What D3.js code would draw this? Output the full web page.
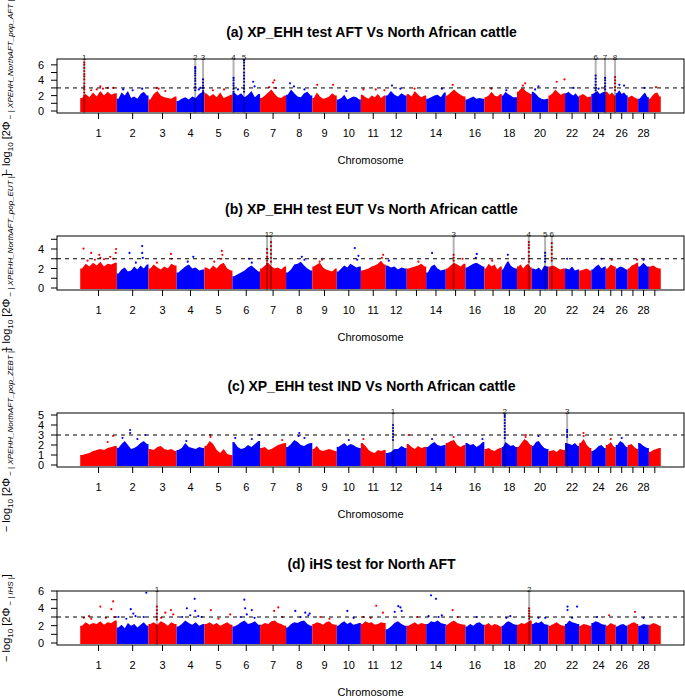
<!DOCTYPE html>
<html><head><meta charset="utf-8">
<script src="https://cdn.jsdelivr.net/npm/d3@7"></script>
<style>body{margin:0;background:#fff} text{font-family:"Liberation Sans",Arial,Helvetica,sans-serif}</style>
</head><body><svg id="c" width="685" height="700"></svg>
<script>
// ---------- data ----------
const chromosomes = d3.range(1, 30);
const chrLengths = [158.3,137.1,121.4,120.6,121.2,119.5,112.6,113.4,105.7,104.3,107.3,91.2,84.2,84.6,85.3,81.7,75.2,66.0,64.1,72.0,71.6,61.4,52.5,62.7,42.9,51.7,45.4,46.3,51.5];
const chrTickLabels = ["1","2","3","4","5","6","7","8","9","10","11","12","","14","","16","","18","","20","","22","","24","","26","","28",""];

const titles = ["(a) XP_EHH test AFT Vs North African cattle","(b) XP_EHH test EUT Vs North African cattle","(c) XP_EHH test IND Vs North African cattle","(d) iHS test for North AFT"];
const yLabelStats = ["XPEHH_NorthAFT_pop_AFT","XPEHH_NorthAFT_pop_EUT","XPEHH_NorthAFT_pop_ZEBT","iHS"];
const yMaxes = [6.5, 5.13, 5.0, 5.77];
const yTicks = [[0,1,2,3,4,5,6],[0,1,2,3,4,5],[0,1,2,3,4,5],[0,1,2,3,4,5,6]];
const yTickLabels = [["0","","2","","4","","6"],["0","","2","","4",""],["0","1","2","3","4","5"],["0","","2","","4","","6"]];
const threshold = 3;

// upper envelope of the dense SNP cloud, per chromosome (binned maxima)
const envA = [[1.7,2.2,1.8,2.4,1.9,2.6,2.0,2.5,2.1,2.3],[1.6,2.4,2.0,2.6,1.7,1.9,1.6,2.2,2.5,2.0],[1.5,2.2,2.6,2.0,1.8,1.7,1.6,1.9],[1.3,1.6,1.8,1.5,1.9,1.7,2.2,2.5],[2.3,1.9,2.2,1.8,2.4,1.7,1.9,2.1],[2.4,2.0,2.3,1.8,2.1,2.6,1.8,2.2],[1.7,2.0,2.4,2.8,2.2,1.8,1.7,2.0],[2.1,2.8,2.3,1.9,1.8,2.3,2.5,2.0],[1.7,2.4,1.9,1.6,1.7,1.9,2.3,2.0],[1.5,1.7,2.1,1.5,1.7,1.9,1.8,1.5],[2.1,1.8,1.6,2.0,1.8,2.2,1.7,2.0],[2.0,2.6,2.1,1.9,2.3,2.0],[2.2,1.9,2.6,2.1,1.8,2.0],[1.6,1.8,2.0,2.1,1.8,2.4],[2.0,2.4,2.8,2.4,2.1,1.9],[1.5,1.7,1.9,1.6,1.7,1.6],[1.8,2.0,2.5,2.0,1.9,2.2],[2.0,2.5,2.2,2.0,1.8,1.8],[2.5,2.9,3.0,2.6,2.4,2.2],[2.5,2.2,1.8,1.6,1.5,1.6],[2.0,2.3,2.8,2.4,2.1,2.3],[2.3,2.5,2.2,2.0,2.3,1.9],[2.0,2.2,2.0,1.8,1.9],[2.2,2.4,2.6,2.2,2.4,2.5],[2.5,2.1,2.4,2.0],[2.3,2.7,2.2,2.4,2.0],[1.8,2.0,1.8,1.6],[1.6,2.0,2.4,1.8],[1.6,2.0,2.3,2.4,1.9]];
const envB = [[2.0,2.5,2.2,2.6,2.3,2.7,2.2,2.5,2.4,2.6],[1.5,1.9,2.1,1.7,1.8,2.2,1.9,2.3,2.0,2.4],[2.0,2.4,2.1,1.9,2.2,2.0,2.5,2.3],[1.6,1.9,2.2,2.4,2.0,2.1,1.8,1.9],[2.1,1.9,2.3,2.0,2.4,2.6,2.0,1.8],[1.2,1.4,1.6,1.8,2.1,2.3,2.0,1.7],[2.0,2.3,2.6,2.2,2.0,2.1,1.9,2.2],[1.6,1.9,2.4,2.5,2.7,2.3,2.0,1.8],[2.2,2.4,2.6,2.1,1.9,1.8,1.7,2.0],[1.7,2.0,2.3,2.1,2.5,2.3,2.1,2.2],[1.8,1.9,2.0,2.2,2.3,2.5,2.8,2.4],[2.3,2.1,2.2,1.9,2.1,2.0],[2.0,2.1,2.2,2.3,2.5,2.2],[1.6,2.2,2.4,2.0,1.8,1.9],[2.0,2.3,2.6,2.4,2.2,2.5],[2.1,2.3,2.5,2.6,2.4,2.2],[2.0,2.5,2.2,2.4,1.9,2.2],[1.9,2.4,2.8,2.3,2.1,2.0],[2.2,2.4,2.0,2.3,2.5,2.1],[2.0,1.9,2.1,1.8,2.3,2.2],[2.2,2.3,2.1,1.9,2.0],[2.0,1.9,2.2,1.8,1.9],[1.8,1.9,2.0,1.8],[1.9,2.2,2.4,2.0,2.2],[2.0,2.4,2.2],[2.0,2.2,2.1,1.9],[2.0,2.3,2.4,2.6],[2.2,2.6,2.2],[2.2,2.3,2.1,2.0]];
const envC = [[1.0,1.1,1.2,1.4,1.5,1.6,1.5,1.7,1.8,1.9],[1.7,2.1,2.4,2.0,1.6,1.7,1.9,2.2,2.4,2.1],[1.6,1.5,1.8,1.9,1.6,1.5,1.6,1.4],[1.5,1.7,2.2,1.8,1.7,1.6,1.8,1.7],[1.9,2.4,2.1,1.5,1.2,1.6,1.1,1.0],[2.3,1.8,1.6,1.7,2.0,1.8,2.1,2.4],[1.7,1.8,1.5,1.6,1.8,2.0,2.1,2.2],[1.8,2.1,2.5,2.3,2.0,1.9,2.1,2.2],[1.6,1.9,1.5,1.4,1.5,1.6,1.5,1.4],[1.8,2.0,2.2,1.9,2.1,2.0,1.8,1.7],[2.2,1.9,1.5,1.3,1.2,1.5,1.4,1.5],[1.2,1.3,1.6,1.6,1.9,1.7],[2.1,1.8,1.6,1.9,1.7,1.8],[1.8,2.1,2.3,2.0,1.9,2.0],[2.2,2.4,2.5,2.0,1.8,2.0],[2.2,2.0,2.1,1.8,2.0,2.3],[1.6,1.7,1.5,1.4,1.6,1.7],[1.8,2.3,2.1,1.9,2.0,1.8],[1.8,2.2,2.6,2.4,2.0],[1.9,2.3,2.4,2.0,1.7,1.6],[1.4,1.5,1.3,1.6,1.5],[2.2,2.1,2.0,2.2,1.9],[2.2,2.6,2.0,1.7],[1.4,1.6,1.9,2.0,1.7],[2.0,2.3,1.8],[2.0,2.4,2.2,1.8],[2.0,2.1,1.8,1.6],[2.2,1.9,1.7],[1.3,1.5,1.6,1.7]];
const envD = [[2.0,2.4,2.1,2.3,2.2,2.5,2.1,2.4,2.3,2.6],[1.8,2.1,1.7,2.3,2.0,2.2,1.8,2.1,2.4,2.0],[2.2,2.4,2.1,2.5,2.3,2.0,2.4,2.2],[1.9,2.2,2.6,2.3,2.1,2.4,2.0,2.2],[2.2,2.4,2.1,2.3,2.0,2.2,2.4,2.1],[1.9,2.1,2.4,2.6,2.2,2.3,2.5,2.1],[2.1,2.3,2.2,2.5,2.6,2.3,2.2,2.0],[1.8,2.2,2.4,2.3,2.5,2.6,2.2,2.0],[2.2,2.4,2.3,2.1,2.4,2.5,2.2,2.1],[2.0,2.3,2.5,2.2,2.4,2.1,2.2,2.3],[2.2,2.5,2.3,2.4,2.1,2.2,2.4,2.3],[1.6,1.9,2.3,2.5,2.2,2.0],[2.0,2.2,2.4,2.1,2.3,2.2],[2.2,2.5,2.4,2.6,2.3,2.2],[2.1,2.4,2.6,2.3,2.2,2.1],[1.9,2.2,2.0,2.3,2.4,2.1],[2.1,2.3,2.0,2.2,2.1,1.9],[2.0,2.3,2.5,2.4,2.2,2.1],[2.1,2.3,2.2,2.4,2.6],[2.2,2.4,2.3,2.5,2.2,2.1],[2.0,2.2,2.4,2.1,2.0],[2.2,2.6,2.4,2.3,2.2],[2.0,2.2,2.1,2.0],[2.3,2.5,2.4,2.2,2.1],[2.0,2.3,2.1],[1.9,2.1,2.2,2.0],[2.1,2.3,2.4,2.2],[2.0,2.2,2.1],[2.1,2.3,2.2,2.0]];

// isolated SNPs above the cloud: [chromosome, relative position, value]
const outA = [[1,0.55,3.2],[1,0.62,2.9],[1,0.75,3.0],[1,0.9,3.0],[1,0.3,2.7],[1,0.45,2.8],[2,0.2,2.8],[2,0.8,2.9],[2,0.5,2.7],[3,0.3,3.0],[3,0.36,2.9],[3,0.6,2.6],[4,0.85,3.0],[4,0.8,2.8],[5,0.3,2.7],[5,0.7,2.8],[6,0.75,3.8],[6,0.8,3.2],[6,0.2,2.8],[7,0.35,3.1],[7,0.5,3.7],[7,0.55,4.0],[7,0.6,3.0],[8,0.15,3.6],[8,0.3,3.2],[8,0.7,2.8],[9,0.2,3.4],[9,0.85,3.4],[10,0.4,2.6],[11,0.1,2.8],[11,0.6,2.8],[11,0.95,2.7],[12,0.3,3.3],[12,0.7,2.9],[13,0.4,2.9],[14,0.8,2.9],[15,0.35,3.4],[17,0.4,2.9],[18,0.3,2.7],[19,0.4,3.3],[19,0.55,3.6],[20,0.4,3.2],[20,0.2,2.8],[21,0.5,3.8],[21,0.97,4.1],[22,0.6,3.0],[24,0.5,2.9],[26,0.3,3.4],[26,0.7,3.3],[28,0.6,3.0],[29,0.6,3.1]];
const outB = [[1,0.09,4.05],[1,0.3,3.6],[1,0.52,3.4],[1,0.55,3.1],[1,0.82,3.2],[1,0.98,4.0],[1,0.97,3.6],[1,0.4,2.9],[1,0.65,2.95],[1,0.2,2.8],[1,0.9,3.0],[2,0.4,3.6],[2,0.8,4.3],[2,0.8,3.6],[2,0.82,3.1],[2,0.6,2.6],[3,0.8,3.5],[3,0.82,3.0],[3,0.3,2.6],[4,0.6,3.2],[4,0.4,2.7],[5,0.62,3.8],[5,0.64,3.4],[5,0.6,3.0],[5,0.35,2.7],[6,0.6,3.0],[6,0.7,2.6],[8,0.6,3.2],[8,0.7,2.9],[9,0.4,2.9],[9,0.3,2.7],[10,0.75,4.1],[10,0.9,3.3],[10,0.85,2.9],[11,0.9,3.4],[11,0.85,3.1],[12,0.15,2.8],[13,0.6,2.7],[14,0.3,3.6],[15,0.85,3.0],[16,0.6,3.5],[16,0.55,3.1],[17,0.45,2.8],[18,0.4,3.4],[22,0.15,3.0],[24,0.7,3.0],[25,0.6,2.9],[27,0.9,2.9],[28,0.5,2.9]];
const outC = [[1,0.9,2.9],[1,0.75,2.3],[2,0.42,3.5],[2,0.42,3.2],[2,0.9,3.0],[2,0.18,2.7],[2,0.65,2.6],[4,0.35,2.4],[5,0.2,3.0],[5,0.22,2.8],[6,0.1,2.7],[6,0.98,3.0],[6,0.7,2.6],[7,0.85,2.5],[8,0.5,3.2],[8,0.48,2.9],[8,0.7,2.7],[10,0.5,2.5],[11,0.1,2.6],[13,0.1,3.0],[14,0.3,2.6],[15,0.4,2.8],[16,0.9,2.6],[19,0.6,3.0],[19,0.58,2.8],[20,0.4,2.9],[23,0.35,3.2],[23,0.37,2.9],[25,0.5,2.6],[26,0.5,2.7]];
const outD = [[1,0.24,3.1],[1,0.55,4.2],[1,0.85,3.9],[1,0.9,4.8],[1,0.1,2.9],[1,0.3,2.8],[1,0.7,2.9],[1,0.95,3.0],[2,0.05,3.0],[2,0.44,3.9],[2,0.52,3.4],[2,0.59,3.1],[2,0.93,5.8],[2,0.3,2.8],[2,0.85,3.0],[3,0.6,3.5],[3,0.8,3.8],[3,0.88,3.3],[3,0.45,2.9],[4,0.37,4.0],[4,0.49,3.2],[4,0.65,5.1],[4,0.67,3.7],[4,0.9,3.0],[4,0.2,3.0],[4,0.78,3.1],[5,0.23,3.8],[5,0.92,3.3],[5,0.5,2.8],[6,0.43,5.0],[6,0.46,4.0],[6,0.7,3.8],[6,0.52,3.3],[6,0.3,3.0],[6,0.8,2.9],[7,0.54,3.7],[7,0.7,4.1],[7,0.85,3.0],[8,0.35,3.7],[8,0.73,3.5],[8,0.55,3.0],[8,0.85,3.2],[8,0.9,3.4],[9,0.33,3.0],[9,0.7,2.8],[10,0.44,3.7],[10,0.7,2.9],[11,0.62,4.3],[11,0.89,3.5],[11,0.1,3.0],[11,0.4,2.9],[12,0.43,3.6],[12,0.6,4.25],[12,0.7,4.1],[12,0.76,3.7],[13,0.53,3.0],[14,0.25,5.5],[14,0.5,5.1],[14,0.12,3.1],[14,0.63,3.0],[14,0.8,3.2],[15,0.35,3.8],[15,0.6,3.0],[16,0.6,3.0],[18,0.56,3.1],[18,0.3,2.9],[20,0.81,2.9],[20,0.4,2.9],[22,0.18,4.2],[22,0.18,3.8],[22,0.85,4.2],[22,0.5,2.9],[24,0.4,3.0],[25,0.33,3.2],[27,0.7,3.6],[28,0.5,2.9]];

// highlighted candidate regions: [label, chromosome, relative position, SNP values in the column]
const hlA = [["1",1,0.11,[6.3,6.0,5.6,5.2,4.8,4.5,4.1,3.6,3.2,2.8,2.4,2.0]],["2",4,0.67,[5.7,5.5,5.2,4.9,4.6,4.2,3.9,3.5,3.1,2.7]],["3",4,0.95,[4.1,3.7,3.3,3.0,2.6]],["4",6,0.04,[4.3,4.0,3.6,3.3,2.9,2.5]],["5",6,0.42,[6.6,6.3,5.9,5.5,5.0,4.6,4.2,3.8,3.3,2.9,2.5]],["6",24,0.3,[4.6,4.2,3.8,3.4,3.0,2.7]],["7",24,0.95,[4.3,4.0,3.6,3.2,2.8]],["8",25,0.93,[4.4,4.0,3.6,3.1,2.7]]];
const hlB = [["1",7,0.27,[4.0,3.6,3.2,2.8,2.5]],["2",7,0.42,[4.7,4.3,3.9,3.5,3.1,2.7]],["3",15,0.4,[3.4,3.1,2.8]],["4",19,0.8,[4.7,4.4,4.1,3.7,3.3,3.0,2.7]],["5",20,0.8,[3.6,3.3,3.0,2.7]],["6",21,0.2,[4.6,4.2,3.9,3.5,3.1,2.8]]];
const hlC = [["1",12,0.35,[4.0,3.7,3.4,3.1,2.8,2.5]],["2",18,0.2,[5.0,4.8,4.5,4.2,3.9,3.6,3.3,3.0,2.7]],["3",22,0.15,[3.5,3.3,3.0,2.8]]];
const hlD = [["1",3,0.3,[4.2,3.8,3.4,3.0,2.7]],["2",19,0.82,[4.0,3.7,3.4,3.1,2.8]]];

const envs = [envA, envB, envC, envD];
const outs = [outA, outB, outC, outD];
const hls = [hlA, hlB, hlC, hlD];

// ---------- layout ----------
const boxTops = [59, 236, 413, 591];
const boxH = 54, boxL = 57, boxR = 684;
const colors = ["#FF0000", "#0000FF"];

const svg = d3.select("#c");
const total = d3.sum(chrLengths);
const starts = d3.cumsum([0].concat(chrLengths.slice(0, -1)));
const x = d3.scaleLinear().domain([-0.04 * total, 1.04 * total]).range([boxL, boxR]);
const pos = (c, r) => starts[c - 1] + r * chrLengths[c - 1];
const col = c => colors[(c - 1) % 2];

titles.forEach((title, p) => {
  const top = boxTops[p], bot = top + boxH;
  const yMax = yMaxes[p];
  const y = d3.scaleLinear().domain([-0.04 * yMax, 1.04 * yMax]).range([bot, top]);
  const g = svg.append("g");

  // dense cloud
  const area = d3.area().x(d => x(d[0])).y0(y(0) + 1).y1(d => y(d[1]));
  chromosomes.forEach((c, i) => {
    const env = envs[p][i], n = env.length, s = starts[i], L = chrLengths[i];
    const pts = [[s, env[0]]].concat(env.map((v, j) => [s + (j + 0.5) / n * L, v]), [[s + L, env[n - 1]]]);
    g.append("path").attr("d", area(pts)).attr("fill", col(c));
  });
  // outliers
  g.selectAll(".o").data(outs[p]).enter().append("circle")
    .attr("cx", d => x(pos(d[0], d[1]))).attr("cy", d => y(d[2])).attr("r", 1.1)
    .attr("fill", d => col(d[0]));
  // highlighted columns
  hls[p].forEach(h => {
    const xc = x(pos(h[1], h[2]));
    g.selectAll(null).data(h[3]).enter().append("circle")
      .attr("cx", xc).attr("cy", v => y(v)).attr("r", 1.1).attr("fill", col(h[1]));
    g.append("line").attr("x1", xc).attr("x2", xc).attr("y1", top).attr("y2", bot)
      .attr("stroke", "rgba(0,0,0,0.3)").attr("stroke-width", 2);
    g.append("text").attr("x", xc).attr("y", top + 1).attr("text-anchor", "middle")
      .attr("font-size", 8).attr("fill", "#222").text(h[0]);
  });
  // threshold
  g.append("line").attr("x1", boxL).attr("x2", boxR).attr("y1", y(threshold)).attr("y2", y(threshold))
    .attr("stroke", "#000").attr("stroke-dasharray", "4,4");
  // box
  g.append("rect").attr("x", boxL).attr("y", top).attr("width", boxR - boxL).attr("height", boxH)
    .attr("fill", "none").attr("stroke", "#000").attr("stroke-width", 1);

  // y axis
  yTicks[p].forEach((t, k) => {
    g.append("line").attr("x1", boxL).attr("x2", boxL - 6).attr("y1", y(t)).attr("y2", y(t)).attr("stroke", "#000");
    if (yTickLabels[p][k]) g.append("text").attr("x", 44).attr("y", y(t) + 4).attr("text-anchor", "end")
      .attr("font-size", 11).text(yTickLabels[p][k]);
  });
  // x axis
  chromosomes.forEach((c, i) => {
    const xm = x(starts[i] + chrLengths[i] / 2);
    g.append("line").attr("x1", xm).attr("x2", xm).attr("y1", bot).attr("y2", bot + 6).attr("stroke", "#000");
    if (chrTickLabels[i]) g.append("text").attr("x", xm).attr("y", bot + 24).attr("text-anchor", "middle")
      .attr("font-size", 11).text(chrTickLabels[i]);
  });
  g.append("text").attr("x", (boxL + boxR) / 2).attr("y", bot + 51).attr("text-anchor", "middle")
    .attr("font-size", 11).text("Chromosome");
  // title
  g.append("text").attr("x", (boxL + boxR) / 2 + 1).attr("y", top - 22).attr("text-anchor", "middle")
    .attr("font-size", 14).attr("font-weight", "bold").text(title);
  // y label
  const t = g.append("text").attr("transform", `translate(10,${top + boxH / 2}) rotate(-90)`)
    .attr("text-anchor", "middle").attr("font-size", 11).attr("fill", "#000");
  t.append("tspan").text("\u2212 log");
  t.append("tspan").attr("font-size", 8).attr("dy", 3).text("10");
  t.append("tspan").attr("dy", -3).text(" [2\u03A6");
  t.append("tspan").attr("font-size", 8).attr("dy", 3).text(" \u2212 | ");
  t.append("tspan").attr("font-size", 8).attr("font-style", "italic").text(yLabelStats[p]);
  t.append("tspan").attr("font-size", 8).text(" |");
  t.append("tspan").attr("dy", -3).text("]");
});
</script></body></html>
